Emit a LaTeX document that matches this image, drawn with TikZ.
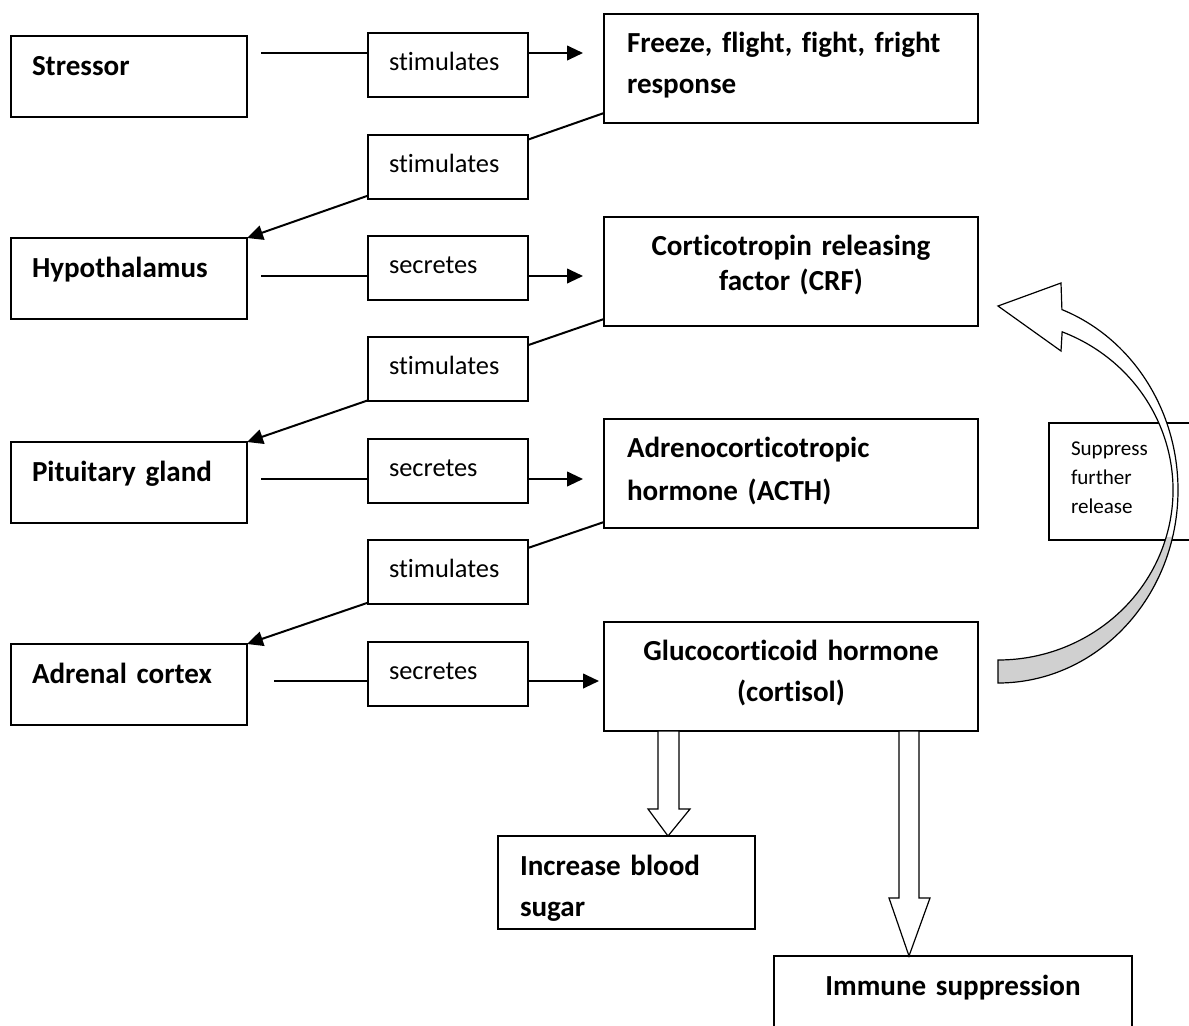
\documentclass[tikz,border=0pt]{standalone}
\usepackage{fontspec}
\setmainfont{Carlito}[Ligatures=NoCommon]
\usepackage{tikz}
\usetikzlibrary{calc}
\usetikzlibrary{arrows.meta}
\definecolor{BandGray}{RGB}{208,208,208}
\tikzset{
	stage/.style={draw=black,line width=1.25pt,anchor=north west,outer sep=0pt,inner xsep=15.75pt,inner ysep=0pt,
		text width=145.5pt,text height=29.25pt,text depth=31.5pt,align=left,
		font=\bfseries\fontsize{21.8}{30.75}\selectfont},
	product/.style={stage,inner xsep=17.25pt,text width=246pt,text height=28.5pt,text depth=53.25pt},
	effect/.style={stage,inner xsep=16.5pt,text width=159.75pt,text depth=40.5pt},
	tag/.style={draw=black,fill=white,line width=1.25pt,anchor=north west,outer sep=0pt,inner xsep=15.75pt,inner ysep=0pt,
		text width=88.5pt,text height=27.75pt,text depth=20.25pt,align=left,
		font=\fontsize{19.8}{24}\selectfont},
	note/.style={draw=black,line width=1pt,anchor=north west,outer sep=0pt,inner xsep=16.5pt,inner ysep=0pt,
		text width=94.5pt,text height=24pt,text depth=63.75pt,align=left,
		font=\fontsize{15.8}{21.75}\selectfont},
	link/.style={draw=black,line width=1.5pt,-{Triangle[length=12pt,width=11pt]}},
	hollow/.style={draw=black,fill=white,line width=0.9pt,line join=miter},
}

\begin{document}
\begin{tikzpicture}[x=0.75pt,y=-0.75pt]
	\useasboundingbox (0,0) rectangle (1189,1025);
	\clip (0,0) rectangle (1189,1025);
	% left column
	\node[stage] (stressor) at (11,36) {Stressor};
	\node[stage] (hypo) at (11,238) {Hypothalamus};
	\node[stage] (pituitary) at (11,442) {Pituitary gland};
	\node[stage] (adrenal) at (11,644) {Adrenal cortex};
	% right column
	\node[product] (freeze) at (604,14) {Freeze, flight, fight, fright\\response};
	\node[product,align=center,font=\bfseries\fontsize{21.8}{26.25}\selectfont] (crf) at (604,217) {Corticotropin releasing\\factor (CRF)};
	\node[product,font=\bfseries\fontsize{21.8}{32.25}\selectfont] (acth) at (604,419) {Adrenocorticotropic\\hormone (ACTH)};
	\node[product,align=center] (gluco) at (604,622) {Glucocorticoid hormone\\(cortisol)};
	\node[effect] (sugar) at (498,836) {Increase blood\\sugar};
	\node[effect,align=center,text width=235.5pt,text depth=52.5pt] (immune) at (774,956) {Immune suppression};
	\node[note] (suppress) at (1049,423) {Suppress\\further\\release};
	% connectors
	\draw[link] ([shift={(14,17)}]stressor.north east) -- ([shift={(-21,39)}]freeze.north west);
	\draw[link] ([shift={(0,-10)}]freeze.south west) -- (hypo.north east);
	\draw[link] ([shift={(14,38)}]hypo.north east) -- ([shift={(-21,59)}]crf.north west);
	\draw[link] ([shift={(0,-7)}]crf.south west) -- (pituitary.north east);
	\draw[link] ([shift={(14,37)}]pituitary.north east) -- ([shift={(-21,60)}]acth.north west);
	\draw[link] ([shift={(0,-6)}]acth.south west) -- (adrenal.north east);
	\draw[link] ([shift={(27,37)}]adrenal.north east) -- ([shift={(-5,59)}]gluco.north west);
	\node[tag] (stim1) at (368,33) {stimulates};
	\node[tag] (stim2) at (368,135) {stimulates};
	\node[tag] (sec1) at (368,236) {secretes};
	\node[tag] (stim3) at (368,337) {stimulates};
	\node[tag] (sec2) at (368,439) {secretes};
	\node[tag] (stim4) at (368,540) {stimulates};
	\node[tag] (sec3) at (368,642) {secretes};
	% block arrows down
	\draw[hollow] ($(gluco.south west)+(54,0)$) -- ++(0,78) -- ++(-10,0) -- ($(sugar.north west)+(170,0)$) -- ++(22,-27) -- ++(-11,0) -- ++(0,-78) -- cycle;
	\draw[hollow] ($(gluco.south west)+(295,0)$) -- ++(0,167) -- ++(-10,0) -- ($(immune.north west)+(135,0)$) -- ++(21,-58) -- ++(-11,0) -- ++(0,-167) -- cycle;
	% feedback arrow
	\coordinate (fbc) at (998,490);
	\fill[white] ($(fbc)+(-90:135pt and 144.75pt)$) arc[start angle=-90,end angle=69.2,x radius=135pt,y radius=144.75pt]
		-- (1061,283) -- (998,306) -- (1061,351)
		-- ($(fbc)+(68.5:131.25pt and 127.5pt)$) arc[start angle=68.5,end angle=-90,x radius=131.25pt,y radius=127.5pt] -- cycle;
	\fill[BandGray] ($(fbc)+(-90:135pt and 144.75pt)$) arc[start angle=-90,end angle=-14,x radius=135pt,y radius=144.75pt]
		-- ($(fbc)+(-16:131.25pt and 127.5pt)$) arc[start angle=-16,end angle=-90,x radius=131.25pt,y radius=127.5pt] -- cycle;
	\draw[line width=0.9pt,line join=miter] ($(fbc)+(-90:135pt and 144.75pt)$) arc[start angle=-90,end angle=69.2,x radius=135pt,y radius=144.75pt]
		-- (1061,283) -- (998,306) -- (1061,351)
		-- ($(fbc)+(68.5:131.25pt and 127.5pt)$) arc[start angle=68.5,end angle=-90,x radius=131.25pt,y radius=127.5pt] -- cycle;
\end{tikzpicture}
\end{document}
